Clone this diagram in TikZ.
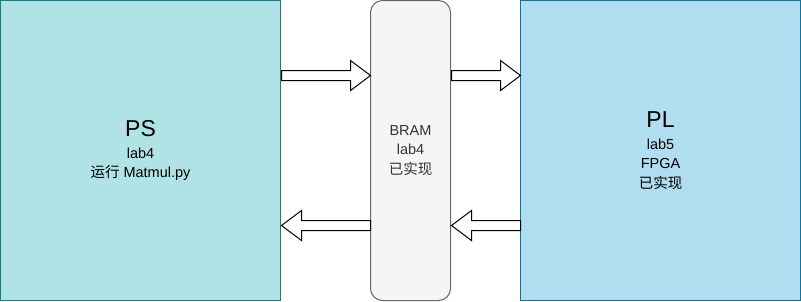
\documentclass[tikz,border=0pt]{standalone}
\usepackage{fontspec}
\setmainfont{Liberation Sans}
\newfontfamily\cjk{Noto Sans CJK SC}
\usetikzlibrary{calc}
\definecolor{psfill}{HTML}{B0E3E6}
\definecolor{psline}{HTML}{0E8088}
\definecolor{plfill}{HTML}{B1DDF0}
\definecolor{plline}{HTML}{10739E}
\definecolor{bramfill}{HTML}{F5F5F5}
\definecolor{bramline}{HTML}{666666}
\definecolor{bramtext}{HTML}{333333}
\tikzset{
  box/.style={rectangle, inner sep=0pt, outer sep=0pt, minimum width=280pt, minimum height=300pt, line width=1pt, align=center, font=\fontsize{14.5}{19.5}\selectfont},
  psbox/.style={box, draw=psline, fill=psfill},
  plbox/.style={box, draw=plline, fill=plfill},
  brambox/.style={box, minimum width=80pt, draw=bramline, fill=bramfill, rounded corners=12pt, text=bramtext},
  barrow/.style={draw=black, fill=white, line width=1pt, line join=miter}
}
\newcommand\blockarr[2]{%
  \path[barrow] let \p1=(#1), \p2=(#2), \n1={sign(\x2-\x1)} in
    (\x1,\y1+5pt) -- (\x2-20pt*\n1,\y1+5pt) -- (\x2-20pt*\n1,\y1+15pt) -- (\x2,\y1)
    -- (\x2-20pt*\n1,\y1-15pt) -- (\x2-20pt*\n1,\y1-5pt) -- (\x1,\y1-5pt) -- cycle;}
\begin{document}
\begin{tikzpicture}[x=1pt,y=-1pt]
\useasboundingbox (0,0) rectangle (801,301);
\node[psbox] (ps) at (140.5,150.5) {{\fontsize{23}{26}\selectfont PS}\\[2pt] lab4\\ {\cjk 运行} Matmul.py};
\node[plbox] (pl) at (660.5,150.5) {{\fontsize{23}{26}\selectfont PL}\\[2pt] lab5\\ FPGA\\ {\cjk 已实现}};
\node[brambox] (bram) at (410.5,150.5) {BRAM\\ lab4\\ {\cjk 已实现}};
\coordinate (a1s) at ($(ps.east)+(1,-75)$);
\coordinate (a1e) at ($(bram.west)+(0,-75)$);
\coordinate (a2s) at ($(bram.east)+(1,-75)$);
\coordinate (a2e) at ($(pl.west)+(0,-75)$);
\coordinate (a3s) at ($(bram.west)+(0,75)$);
\coordinate (a3e) at ($(ps.east)+(1,75)$);
\coordinate (a4s) at ($(pl.west)+(0,75)$);
\coordinate (a4e) at ($(bram.east)+(1,75)$);
\blockarr{a1s}{a1e}
\blockarr{a2s}{a2e}
\blockarr{a3s}{a3e}
\blockarr{a4s}{a4e}
\end{tikzpicture}
\end{document}
